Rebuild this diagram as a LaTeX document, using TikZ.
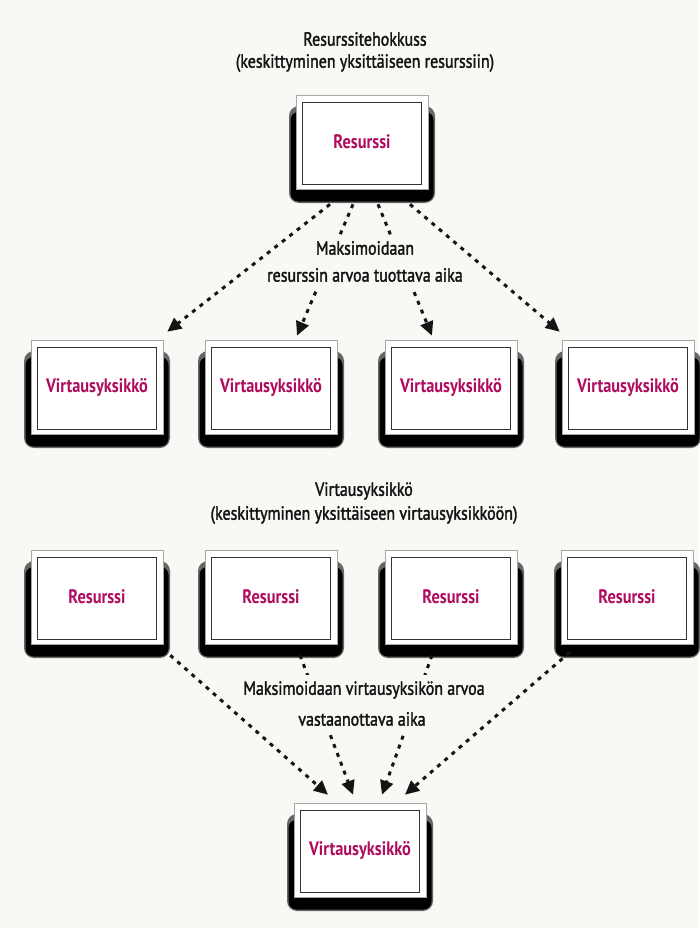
\documentclass[tikz,border=0pt]{standalone}
\usepackage{fontspec}
\setmainfont{PT Sans}[FakeStretch=0.84]
\newfontfamily\lblfont{PT Sans}[FakeStretch=0.84,FakeBold=1.8]
\usetikzlibrary{arrows.meta,calc}
\definecolor{bg}{RGB}{248,249,245}
\definecolor{mag}{RGB}{175,12,95}
\definecolor{ink}{RGB}{20,20,20}
\tikzset{
 boxnode/.style={draw=black!35, line width=0.6pt, fill=white, minimum width=132pt, minimum height=94pt, inner sep=0pt, font=\fontsize{19.5}{22}\selectfont\bfseries, text=mag},
 innerframe/.style={draw=black!80, line width=0.9pt},
 darr/.style={draw=ink, line width=3pt, dash pattern=on 4pt off 5.5pt, -{Triangle[length=14pt,width=13pt]}},
 lbl/.style={font=\fontsize{19}{22}\lblfont, text=ink, inner sep=2pt},
 cover/.style={lbl, fill=bg, inner xsep=3pt, inner ysep=6pt}
}
\newcommand\shadowbox[4]{%
 \fill[black!60, rounded corners=10pt] ($(#2,#3)+(-73,-36)$) rectangle ($(#2,#3)+(73,61)$);
 \fill[black, rounded corners=8pt] ($(#2,#3)+(-71.5,-30)$) rectangle ($(#2,#3)+(71.5,59.5)$);
 \node[boxnode] (#1) at (#2,#3) {#4};
 \draw[innerframe] ($(#1.north west)+(7,8)$) rectangle ($(#1.south east)+(-7,-5)$);
}
\begin{document}
\begin{tikzpicture}[x=1pt,y=-1pt]
\fill[bg] (0,0) rectangle (699,928);
\useasboundingbox (0,0) rectangle (699,928);

\node[lbl] (t1) at (365,39) {Resurssitehokkuss};
\node[lbl] (t2) at (365,63) {(keskittyminen yksittäiseen resurssiin)};
\node[lbl] (t3) at (364,491) {Virtausyksikkö};
\node[lbl] (t4) at (364,515) {(keskittyminen yksittäiseen virtausyksikköön)};

\shadowbox{top}{362}{142}{Resurssi}
\shadowbox{v1}{97}{387}{Virtausyksikkö}
\shadowbox{v2}{271}{387}{Virtausyksikkö}
\shadowbox{v3}{451}{387}{Virtausyksikkö}
\shadowbox{v4}{628}{387}{Virtausyksikkö}
\shadowbox{r1}{97}{597}{Resurssi}
\shadowbox{r2}{271}{597}{Resurssi}
\shadowbox{r3}{451}{597}{Resurssi}
\shadowbox{r4}{627}{597}{Resurssi}
\shadowbox{b}{360}{850}{Virtausyksikkö}

\draw[darr] ($(top.south)+(-32,15)$) -- ($(v1.north east)+(4,-8)$);
\draw[darr] ($(top.south)+(-9,15)$) -- ($(v2.north)+(26,-4)$);
\draw[darr] ($(top.south)+(16,15)$) -- ($(v3.north)+(-19,-4)$);
\draw[darr] ($(top.south)+(48,15)$) -- ($(v4.north west)+(-2,-8)$);

\draw[darr] ($(r1.south east)+(7,11)$) -- ($(b.north)+(-32,-8)$);
\draw[darr] ($(r2.south)+(29,11)$) -- ($(b.north)+(-7,-8)$);
\draw[darr] ($(r3.south)+(-19,11)$) -- ($(b.north)+(22,-8)$);
\draw[darr] ($(r4.south west)+(9,8)$) -- ($(b.north)+(45,-8)$);

\node[cover] (m1) at (365,248) {Maksimoidaan};
\node[cover] (m2) at (365,275) {resurssin arvoa tuottava aika};
\node[cover] (m3) at (364,690) {Maksimoidaan virtausyksikön arvoa};
\node[cover] (m4) at (362,719) {vastaanottava aika};
\end{tikzpicture}
\end{document}
